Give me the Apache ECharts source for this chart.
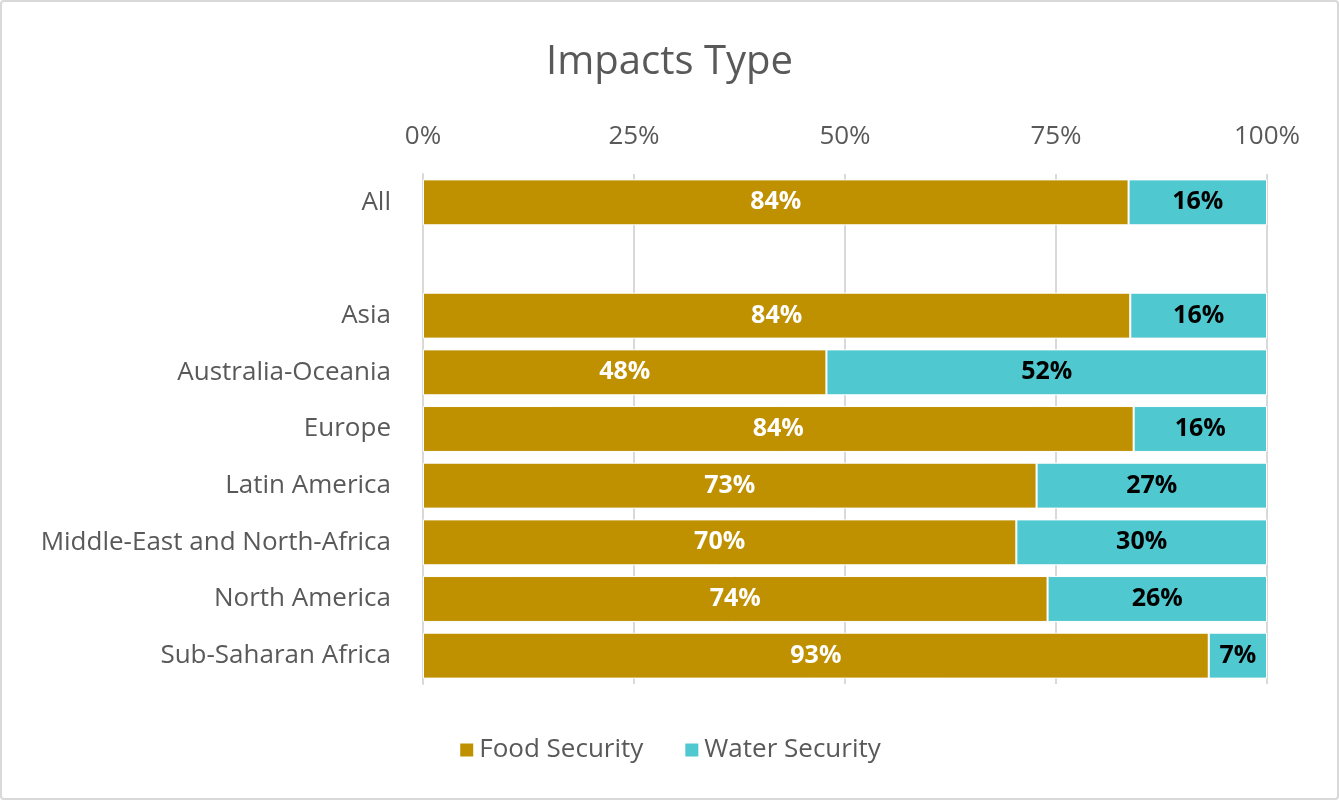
<!DOCTYPE html>
<html><head><meta charset="utf-8">
<script src="https://cdn.jsdelivr.net/npm/echarts@6/dist/echarts.min.js"></script>
<style>html,body{margin:0;padding:0;background:#fff}#c{width:1339px;height:800px;box-sizing:border-box;border:2px solid #d9d9d9;border-radius:4px}</style>
</head><body><div id="c"></div>
<script>
const categories = ['All', '', 'Asia', 'Australia-Oceania', 'Europe', 'Latin America', 'Middle-East and North-Africa', 'North America', 'Sub-Saharan Africa'];
const foodSecurity = [83.6, null, 83.8, 47.8, 84.2, 72.7, 70.3, 74.0, 93.1];
const waterSecurity = [16.4, null, 16.2, 52.2, 15.8, 27.3, 29.7, 26.0, 6.9];
const xTicks = [0, 25, 50, 75, 100];

const FONT = 'Open Sans';
const chart = echarts.init(document.getElementById('c'));
const lbl = (color) => ({
  show: true, position: 'inside', color: color, fontWeight: 'bold', fontSize: 25, fontFamily: FONT,
  formatter: p => p.value == null ? '' : Math.round(p.value) + '%'
});
chart.setOption({
  animation: false,
  title: { text: 'Impacts Type', left: 'center', top: 36, textStyle: { fontSize: 40, fontWeight: 'normal', color: '#595959', fontFamily: FONT } },
  legend: { bottom: 30, left: 'center', itemWidth: 15, itemHeight: 15, itemGap: 40, icon: 'rect',
    textStyle: { fontSize: 26, color: '#595959', fontFamily: FONT } },
  grid: { left: 421, right: 70, top: 172, bottom: 114, containLabel: false },
  xAxis: { type: 'value', position: 'top', min: 0, max: 100, interval: 25,
    axisLabel: { formatter: v => xTicks.includes(v) ? v + '%' : '', fontSize: 26, color: '#595959', fontFamily: FONT, margin: 24 },
    splitLine: { show: true, lineStyle: { color: '#d9d9d9', width: 2 } },
    axisLine: { show: false }, axisTick: { show: false } },
  yAxis: { type: 'category', data: categories, inverse: true,
    axisLabel: { fontSize: 26, color: '#595959', fontFamily: FONT, margin: 32 },
    axisLine: { show: true, lineStyle: { color: '#d9d9d9', width: 2 } }, axisTick: { show: false } },
  series: [
    { name: 'Food Security', type: 'bar', stack: 's', data: foodSecurity, barCategoryGap: '19%',
      itemStyle: { color: '#BF9000', borderColor: '#fff', borderWidth: 1 }, label: lbl('#ffffff') },
    { name: 'Water Security', type: 'bar', stack: 's', data: waterSecurity,
      itemStyle: { color: '#4FC8CF', borderColor: '#fff', borderWidth: 1 }, label: lbl('#000000') }
  ]
});
</script></body></html>
